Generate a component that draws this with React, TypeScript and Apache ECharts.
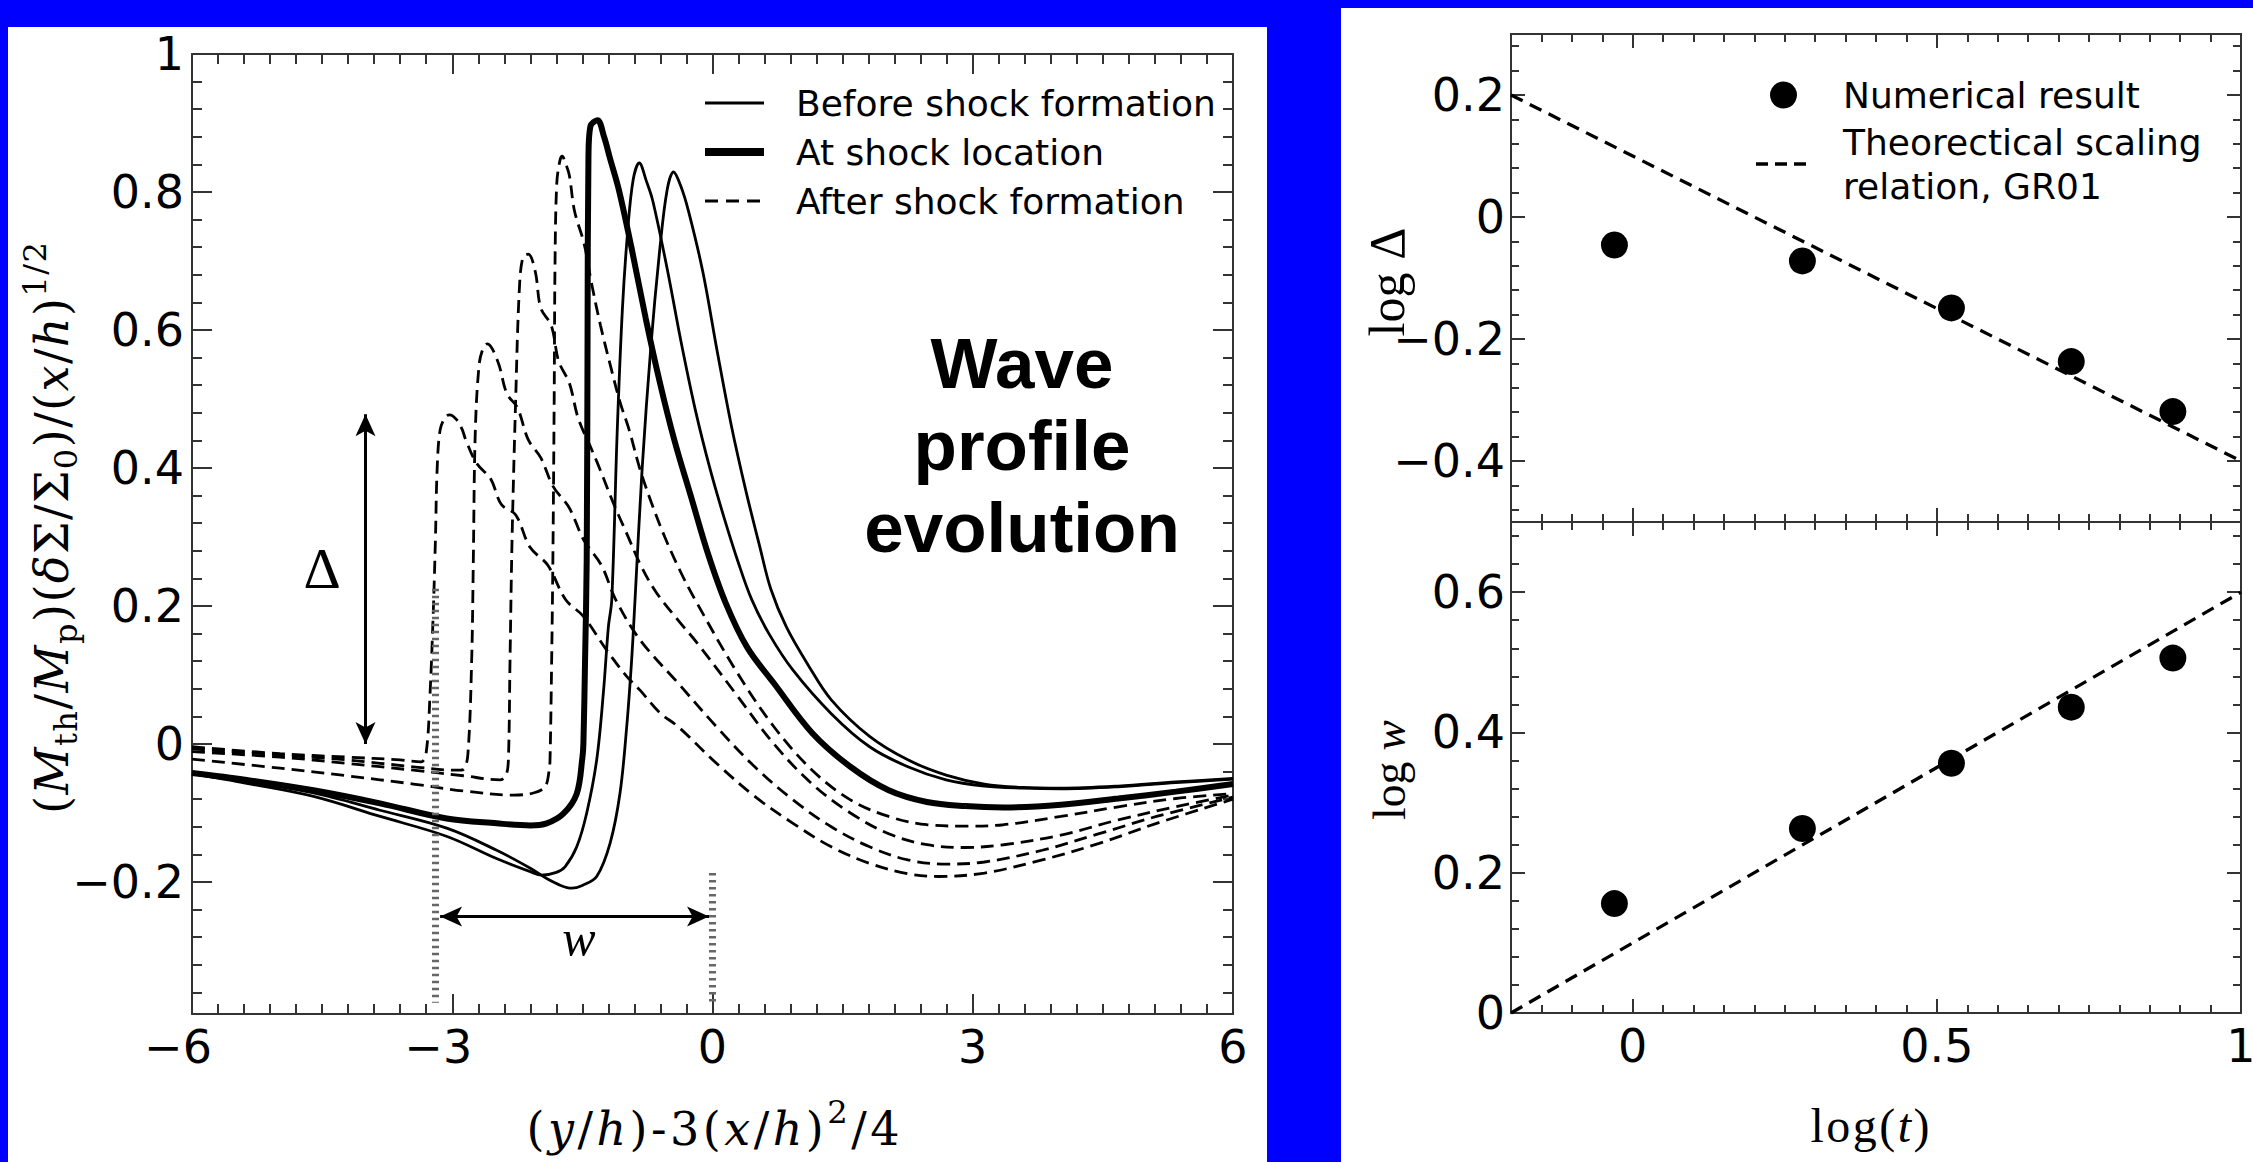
import React, { useEffect, useRef } from 'react';
import * as echarts from 'echarts';

type Pt = [number, number];

// ---------------- Left panel: wave profiles, [ (y/h)-3(x/h)^2/4 , scaled density ] ----------------
const beforeEarly: Pt[] = [[-6,-0.043],[-5.37,-0.057],[-4.6,-0.076],[-3.83,-0.105],[-3.06,-0.134],[-2.49,-0.166],[-2.1,-0.185],[-1.97,-0.19],[-1.8,-0.186],[-1.7,-0.178],[-1.565,-0.149],[-1.45,-0.1],[-1.335,-0.023],[-1.258,0.074],[-1.2,0.17],[-1.161,0.209],[-1.099,0.451],[-1.038,0.632],[-0.976,0.746],[-0.914,0.818],[-0.844,0.842],[-0.76,0.815],[-0.688,0.787],[-0.523,0.689],[-0.358,0.58],[-0.194,0.482],[-0.029,0.399],[0.136,0.327],[0.3,0.262],[0.45,0.21],[0.65,0.16],[0.928,0.107],[1.369,0.044],[1.811,-0.004],[2.252,-0.033],[2.693,-0.052],[3.134,-0.061],[3.575,-0.064],[4.016,-0.065],[4.678,-0.062],[5.34,-0.056],[6,-0.051]];
const beforeLate: Pt[] = [[-6,-0.043],[-5.37,-0.055],[-4.6,-0.071],[-3.833,-0.096],[-3.064,-0.122],[-2.488,-0.154],[-2.1,-0.18],[-1.911,-0.195],[-1.75,-0.205],[-1.623,-0.209],[-1.5,-0.205],[-1.335,-0.192],[-1.181,-0.144],[-1.066,-0.071],[-0.989,0.025],[-0.932,0.122],[-0.893,0.209],[-0.811,0.399],[-0.708,0.58],[-0.605,0.72],[-0.523,0.803],[-0.449,0.829],[-0.37,0.81],[-0.276,0.772],[-0.111,0.684],[0.053,0.57],[0.218,0.461],[0.383,0.368],[0.547,0.285],[0.671,0.225],[0.85,0.17],[1.1,0.115],[1.369,0.064],[1.811,0.011],[2.252,-0.023],[2.693,-0.045],[3.134,-0.058],[3.575,-0.063],[4.016,-0.064],[4.678,-0.061],[5.34,-0.055],[6,-0.05]];
const atShock: Pt[] = [[-6,-0.042],[-5.37,-0.052],[-4.6,-0.067],[-3.833,-0.086],[-3.064,-0.108],[-2.488,-0.115],[-2.1,-0.118],[-1.911,-0.115],[-1.719,-0.101],[-1.565,-0.072],[-1.5,-0.02],[-1.488,0.001],[-1.469,0.122],[-1.45,0.267],[-1.44,0.6],[-1.43,0.85],[-1.408,0.895],[-1.326,0.904],[-1.25,0.88],[-1.182,0.849],[-1.079,0.803],[-0.935,0.72],[-0.77,0.617],[-0.605,0.523],[-0.441,0.441],[-0.235,0.353],[-0.05,0.275],[0.15,0.205],[0.4,0.14],[0.708,0.088],[1.149,0.016],[1.59,-0.033],[2.031,-0.067],[2.472,-0.084],[2.913,-0.09],[3.355,-0.092],[4.016,-0.088],[4.678,-0.079],[5.34,-0.069],[6,-0.058]];
const afterA: Pt[] = [[-6,-0.004],[-4.985,-0.014],[-4.217,-0.019],[-3.6,-0.023],[-3.36,-0.026],[-3.3,-0.012],[-3.256,0.073],[-3.218,0.194],[-3.194,0.296],[-3.174,0.399],[-3.14,0.455],[-3.08,0.474],[-3.03,0.477],[-2.95,0.47],[-2.886,0.456],[-2.845,0.441],[-2.72,0.407],[-2.556,0.384],[-2.433,0.347],[-2.268,0.332],[-2.103,0.285],[-1.898,0.259],[-1.692,0.209],[-1.488,0.185],[-1.22,0.136],[-0.989,0.098],[-0.836,0.078],[-0.605,0.045],[-0.395,0.025],[0.046,-0.028],[0.487,-0.076],[0.928,-0.115],[1.369,-0.149],[1.811,-0.173],[2.252,-0.188],[2.604,-0.192],[3.134,-0.187],[3.8,-0.168],[4.457,-0.144],[5.119,-0.115],[6,-0.08]];
const afterB: Pt[] = [[-6,-0.007],[-4.985,-0.016],[-4.217,-0.023],[-3.448,-0.033],[-2.95,-0.038],[-2.872,-0.037],[-2.82,-0.015],[-2.776,0.122],[-2.757,0.267],[-2.735,0.45],[-2.69,0.55],[-2.64,0.575],[-2.597,0.58],[-2.474,0.554],[-2.371,0.508],[-2.247,0.487],[-2.124,0.441],[-1.98,0.415],[-1.836,0.373],[-1.65,0.342],[-1.486,0.296],[-1.28,0.259],[-1.115,0.209],[-0.836,0.151],[-0.395,0.088],[0.046,0.025],[0.487,-0.033],[0.928,-0.081],[1.369,-0.12],[1.811,-0.149],[2.252,-0.168],[2.693,-0.174],[3.134,-0.171],[3.8,-0.154],[4.457,-0.13],[5.119,-0.105],[6,-0.077]];
const afterC: Pt[] = [[-6,-0.011],[-4.985,-0.019],[-4.217,-0.028],[-3.448,-0.038],[-2.872,-0.046],[-2.45,-0.052],[-2.38,-0.045],[-2.353,-0.023],[-2.334,0.122],[-2.31,0.3],[-2.268,0.503],[-2.227,0.658],[-2.186,0.705],[-2.124,0.71],[-2.042,0.684],[-1.98,0.632],[-1.857,0.606],[-1.774,0.555],[-1.65,0.523],[-1.548,0.472],[-1.404,0.43],[-1.3,0.399],[-1.136,0.347],[-0.992,0.306],[-0.827,0.259],[-0.65,0.22],[-0.4,0.18],[-0.174,0.146],[0.267,0.073],[0.708,0.0],[1.149,-0.058],[1.59,-0.1],[2.031,-0.13],[2.472,-0.146],[2.913,-0.15],[3.355,-0.146],[4.016,-0.132],[4.678,-0.11],[5.34,-0.091],[6,-0.074]];
const afterD: Pt[] = [[-6,-0.022],[-4.985,-0.035],[-4.217,-0.046],[-3.448,-0.058],[-2.872,-0.068],[-2.295,-0.074],[-2.065,-0.071],[-1.93,-0.062],[-1.885,-0.04],[-1.873,-0.023],[-1.854,0.122],[-1.84,0.267],[-1.825,0.5],[-1.815,0.7],[-1.795,0.813],[-1.76,0.845],[-1.733,0.852],[-1.69,0.84],[-1.65,0.824],[-1.59,0.772],[-1.48,0.725],[-1.395,0.668],[-1.29,0.606],[-1.17,0.545],[-1.065,0.495],[-0.96,0.455],[-0.84,0.4],[-0.705,0.35],[-0.55,0.3],[-0.37,0.25],[-0.2,0.209],[0.267,0.107],[0.708,0.025],[1.149,-0.038],[1.59,-0.081],[2.031,-0.105],[2.472,-0.117],[2.913,-0.119],[3.355,-0.117],[4.016,-0.105],[4.678,-0.091],[5.34,-0.079],[6,-0.072]];

// annotations (data coordinates)
const deltaArrowX = -4.0;
const deltaArrowY: Pt = [0.0, 0.478];
const wArrowY = -0.25;
const wArrowX: Pt = [-3.14, -0.04];
const guideLeft = { x: -3.2, y: [0.225, -0.375] };
const guideRight = { x: 0, y: [-0.187, -0.375] };
const deltaLabelPos: Pt = [-4.5, 0.254];
const wLabelPos: Pt = [-1.54, -0.281];

// ---------------- Right panels ----------------
const logT = [-0.03, 0.279, 0.524, 0.721, 0.888];
const logDelta = [-0.046, -0.072, -0.149, -0.237, -0.319];
const logW = [0.156, 0.263, 0.356, 0.436, 0.506];
const theoryT = [-0.2, 1];
const theoryDelta = [0.2, -0.4];
const theoryW = [0, 0.6];

// ---------------- Tick values ----------------
const leftXTicks = [-6, -3, 0, 3, 6];
const leftYTicks = [-0.2, 0, 0.2, 0.4, 0.6, 0.8, 1];
const rightXTicks = [0, 0.5, 1];
const deltaTicks = [-0.4, -0.2, 0, 0.2];
const wTicks = [0, 0.2, 0.4, 0.6];

const SANS = 'DejaVu Sans';
const SERIF = 'Liberation Serif';
const SERIF_WIDE = 'DejaVu Serif';
const AXC = '#333';

function steps(a: number, b: number, s: number) {
  const out: number[] = [];
  const n = Math.round((b - a) / s);
  for (let i = 0; i <= n; i++) out.push(Math.round((a + i * s) * 10000) / 10000);
  return out;
}
const fmt = (v: number) => {
  const r = Math.round(v * 1000) / 1000;
  return (r < 0 ? '\u2212' : '') + String(Math.abs(r));
};

function axisPair(gridIndex: number, position: string, min: number, max: number, major: number[], minor: number[], majorLen: number, minorLen: number, label?: any) {
  const ls = { color: AXC, width: 2 };
  const base = { type: 'value', gridIndex, position, min, max, splitLine: { show: false }, splitArea: { show: false } };
  return [
    { ...base, axisLine: { show: true, onZero: false, lineStyle: ls }, axisTick: { show: true, inside: true, length: majorLen, customValues: major, lineStyle: ls }, axisLabel: label ? { ...label, customValues: major } : { show: false } },
    { ...base, axisLine: { show: false, onZero: false }, axisTick: { show: true, inside: true, length: minorLen, customValues: minor, lineStyle: ls }, axisLabel: { show: false } },
  ];
}

type Seg = { t: string; i?: boolean; s?: 'b' | 'p' };
// Lays out a small formula character by character; spreads it evenly to the wanted length
function mathLabel(segs: Seg[], family: string, F: number, targetLen: number, cx: number, cy: number, vertical: boolean) {
  const ctx = document.createElement('canvas').getContext('2d')!;
  const chars: { t: string; i?: boolean; s?: 'b' | 'p'; w: number; size: number }[] = [];
  segs.forEach((sg) => {
    Array.from(sg.t).forEach((ch) => {
      const size = sg.s ? F * 0.7 : F;
      ctx.font = `${sg.i ? 'italic ' : ''}${size}px "${family}"`;
      chars.push({ t: ch, i: sg.i, s: sg.s, size, w: ctx.measureText(ch).width });
    });
  });
  const total = chars.reduce((a, c) => a + c.w, 0);
  let k = 1;
  let gap = 0;
  if (total > targetLen) k = targetLen / total;
  else if (chars.length > 1) gap = (targetLen - total) / (chars.length - 1);
  let pos = 0;
  const placed = chars.map((c) => {
    const x = pos;
    pos += c.w * k + gap;
    return { ...c, x };
  });
  const len = pos - gap;
  return {
    type: 'group', x: cx, y: cy, rotation: vertical ? Math.PI / 2 : 0, silent: true,
    children: placed.filter((c) => c.t !== ' ').map((c) => ({
      type: 'text',
      x: c.x - len / 2,
      y: (c.s === 'b' ? 0.3 * F : c.s === 'p' ? -0.36 * F : 0) * k,
      style: { text: c.t, fontFamily: family, fontSize: c.size * k, fontStyle: c.i ? 'italic' : 'normal', fill: '#000', align: 'left', verticalAlign: 'middle', textAlign: 'left', textVerticalAlign: 'middle' },
    })),
  };
}

function buildOption() {
  const tickLabel = { show: true, color: '#000', fontSize: 46, fontFamily: SANS };
  const leftMinorX = steps(-6, 6, 0.3);
  const leftMinorY = steps(-0.36, 1, 0.04);
  const rightMinorX = steps(-0.2, 1, 0.05);
  const deltaMinor = steps(-0.48, 0.28, 0.04);
  const wMinor = steps(0, 0.68, 0.04);

  const xAxis = [
    ...axisPair(0, 'bottom', -6, 6, leftXTicks, leftMinorX, 20, 10, {
      ...tickLabel, margin: 10,
      formatter: (v: number) => (v < 0 ? `{t|\u2212${Math.abs(v)}}{p|\u00a0}` : `{t|${v}}`),
      rich: { t: { fontSize: 46, fontFamily: SANS, color: '#000' }, p: { width: 28, fontSize: 46 } },
    }),
    ...axisPair(0, 'top', -6, 6, leftXTicks, leftMinorX, 20, 10),
    ...axisPair(1, 'bottom', -0.2, 1, rightXTicks, rightMinorX, 14, 8),
    ...axisPair(1, 'top', -0.2, 1, rightXTicks, rightMinorX, 14, 8),
    ...axisPair(2, 'bottom', -0.2, 1, rightXTicks, rightMinorX, 14, 8, { ...tickLabel, margin: 10, formatter: (v: number) => String(v) }),
    ...axisPair(2, 'top', -0.2, 1, rightXTicks, rightMinorX, 14, 8),
  ];
  const yAxis = [
    ...axisPair(0, 'left', -0.3913, 1, leftYTicks, leftMinorY, 20, 10, { ...tickLabel, margin: 8, formatter: fmt }),
    ...axisPair(0, 'right', -0.3913, 1, leftYTicks, leftMinorY, 20, 10),
    ...axisPair(1, 'left', -0.5, 0.3, deltaTicks, deltaMinor, 14, 8, { ...tickLabel, margin: 6, formatter: fmt }),
    ...axisPair(1, 'right', -0.5, 0.3, deltaTicks, deltaMinor, 14, 8),
    ...axisPair(2, 'left', 0, 0.7, wTicks, wMinor, 14, 8, { ...tickLabel, margin: 6, formatter: fmt }),
    ...axisPair(2, 'right', 0, 0.7, wTicks, wMinor, 14, 8),
  ];

  const curve = (name: string, data: Pt[], width: number, dashed: boolean, extra: any = {}) => ({
    name, type: 'line', xAxisIndex: 0, yAxisIndex: 0, data, showSymbol: false, symbol: 'none',
    smooth: 0.35, silent: true, z: 3,
    lineStyle: { color: '#000', width, type: dashed ? [13, 7] : 'solid', cap: 'butt' },
    ...extra,
  });

  const series: any[] = [
    curve('At shock location', atShock, 6, false, {
      markLine: {
        silent: true, symbol: ['arrow', 'arrow'], symbolSize: [15, 22], label: { show: false },
        lineStyle: { color: '#000', width: 3, type: 'solid' }, emphasis: { disabled: true },
        data: [
          [{ coord: [deltaArrowX, deltaArrowY[0]] }, { coord: [deltaArrowX, deltaArrowY[1]] }],
          [{ coord: [wArrowX[0], wArrowY] }, { coord: [wArrowX[1], wArrowY] }],
        ],
      },
    }),
    curve('Before shock formation', beforeEarly, 2.8, false, {
      markLine: {
        silent: true, symbol: ['none', 'none'], label: { show: false },
        lineStyle: { color: '#666', width: 7, type: [2.5, 4.5] }, emphasis: { disabled: true },
        data: [
          [{ coord: [guideLeft.x, guideLeft.y[0]] }, { coord: [guideLeft.x, guideLeft.y[1]] }],
          [{ coord: [guideRight.x, guideRight.y[0]] }, { coord: [guideRight.x, guideRight.y[1]] }],
        ],
      },
    }),
    curve('Before shock formation', beforeLate, 2.8, false),
    curve('After shock formation', afterA, 2.8, true),
    curve('After shock formation', afterB, 2.8, true),
    curve('After shock formation', afterC, 2.8, true),
    curve('After shock formation', afterD, 2.8, true),
    {
      name: 'Numerical result', type: 'scatter', xAxisIndex: 4, yAxisIndex: 4, symbol: 'circle', symbolSize: 27,
      data: logT.map((t, i) => [t, logDelta[i]]), itemStyle: { color: '#000', opacity: 1 }, silent: true, z: 4,
    },
    {
      name: 'Theorectical scaling relation, GR01', type: 'line', xAxisIndex: 4, yAxisIndex: 4, showSymbol: false, symbol: 'none',
      data: theoryT.map((t, i) => [t, theoryDelta[i]]), lineStyle: { color: '#000', width: 3.3, type: [13, 8] }, silent: true, z: 3,
    },
    {
      name: 'Numerical result', type: 'scatter', xAxisIndex: 8, yAxisIndex: 8, symbol: 'circle', symbolSize: 27,
      data: logT.map((t, i) => [t, logW[i]]), itemStyle: { color: '#000', opacity: 1 }, silent: true, z: 4,
    },
    {
      name: 'Theorectical scaling relation, GR01', type: 'line', xAxisIndex: 8, yAxisIndex: 8, showSymbol: false, symbol: 'none',
      data: theoryT.map((t, i) => [t, theoryW[i]]), lineStyle: { color: '#000', width: 3.3, type: [13, 8] }, silent: true, z: 3,
    },
  ];

  return {
    animation: false,
    backgroundColor: '#0000ff',
    grid: [
      { left: 192, top: 54, width: 1041, height: 960, containLabel: false, outerBoundsMode: 'none' },
      { left: 1511, top: 34, width: 730, height: 488, containLabel: false, outerBoundsMode: 'none' },
      { left: 1511, top: 522, width: 730, height: 491, containLabel: false, outerBoundsMode: 'none' },
    ],
    xAxis, yAxis, series,
  };
}

function staticGraphics() {
  const txt = (text: string, x: number, y: number, fontSize: number, extra: any = {}) => ({
    type: 'text', x, y, silent: true,
    style: { text, fontFamily: SANS, fontSize, fill: '#000', align: 'left', verticalAlign: 'middle', textAlign: 'left', textVerticalAlign: 'middle', ...extra },
  });
  const bold = (text: string, y: number) => ({
    type: 'text', x: 1022, y, silent: true,
    style: { text, fontFamily: 'Liberation Sans', fontWeight: 'bold', fontSize: 71, fill: '#000', align: 'center', verticalAlign: 'middle', textAlign: 'center', textVerticalAlign: 'middle' },
  });
  return [
    { type: 'rect', z: -10, silent: true, shape: { x: 8, y: 27, width: 1259, height: 1135 }, style: { fill: '#fff' } },
    { type: 'rect', z: -10, silent: true, shape: { x: 1341, y: 8, width: 912, height: 1154 }, style: { fill: '#fff' } },
    // left legend
    { type: 'line', silent: true, shape: { x1: 705, y1: 103, x2: 764, y2: 103 }, style: { stroke: '#000', lineWidth: 3 } },
    { type: 'line', silent: true, shape: { x1: 705, y1: 152, x2: 764, y2: 152 }, style: { stroke: '#000', lineWidth: 8 } },
    { type: 'line', silent: true, shape: { x1: 705, y1: 201, x2: 764, y2: 201 }, style: { stroke: '#000', lineWidth: 3, lineDash: [13, 8] } },
    txt('Before shock formation', 796, 103, 36),
    txt('At shock location', 796, 152, 36),
    txt('After shock formation', 796, 201, 36),
    bold('Wave', 363),
    bold('profile', 445),
    bold('evolution', 527),
    // right legend
    { type: 'circle', silent: true, shape: { cx: 1783.5, cy: 95, r: 13.5 }, style: { fill: '#000' } },
    { type: 'line', silent: true, shape: { x1: 1756, y1: 164, x2: 1807, y2: 164 }, style: { stroke: '#000', lineWidth: 3.3, lineDash: [12, 7] } },
    txt('Numerical result', 1843, 95, 36),
    txt('Theorectical scaling', 1843, 142, 36),
    txt('relation, GR01', 1843, 186, 36),
    // axis titles
    mathLabel([
      { t: '(' }, { t: 'M', i: true }, { t: 'th', s: 'b' }, { t: '/' }, { t: 'M', i: true }, { t: 'p', s: 'b' }, { t: ')(' },
      { t: 'δ', i: true }, { t: 'Σ/Σ' }, { t: '0', s: 'b' }, { t: ')/(' }, { t: 'x', i: true }, { t: '/' }, { t: 'h', i: true }, { t: ')' },
      { t: '1/2', s: 'p' },
    ], SERIF_WIDE, 46, 572, 52, 528, true),
    mathLabel([
      { t: '(' }, { t: 'y', i: true }, { t: '/' }, { t: 'h', i: true }, { t: ')-3(' }, { t: 'x', i: true }, { t: '/' }, { t: 'h', i: true }, { t: ')' },
      { t: '2', s: 'p' }, { t: '/4' },
    ], SERIF_WIDE, 46, 373, 713, 1129, false),
    mathLabel([{ t: 'log Δ' }], SERIF, 50, 109, 1387, 282, true),
    mathLabel([{ t: 'log ' }, { t: 'w', i: true }], SERIF, 48, 100, 1389, 770, true),
    mathLabel([{ t: 'log(' }, { t: 't', i: true }, { t: ')' }], SERIF, 48, 119, 1870, 1125, false),
  ];
}

export default function App() {
  const ref = useRef<HTMLDivElement>(null);
  useEffect(() => {
    const el = ref.current!;
    const chart = echarts.init(el, null, { renderer: 'svg' });
    chart.setOption(buildOption() as any);
    const px = (p: Pt) => chart.convertToPixel({ seriesIndex: 0 }, p) as unknown as number[];
    const dP = px(deltaLabelPos);
    const wP = px(wLabelPos);
    chart.setOption({
      graphic: [
        ...staticGraphics(),
        { type: 'text', x: dP[0], y: dP[1], silent: true, style: { text: 'Δ', fontFamily: SERIF, fontSize: 58, fill: '#000', align: 'center', verticalAlign: 'middle', textAlign: 'center', textVerticalAlign: 'middle' } },
        { type: 'text', x: wP[0], y: wP[1], silent: true, style: { text: 'w', fontFamily: SERIF, fontStyle: 'italic', fontSize: 50, fill: '#000', align: 'center', verticalAlign: 'middle', textAlign: 'center', textVerticalAlign: 'middle' } },
      ],
    } as any);
    return () => chart.dispose();
  }, []);
  return <div ref={ref} style={{ position: 'fixed', left: 0, top: 0, width: 2253, height: 1162 }} />;
}
